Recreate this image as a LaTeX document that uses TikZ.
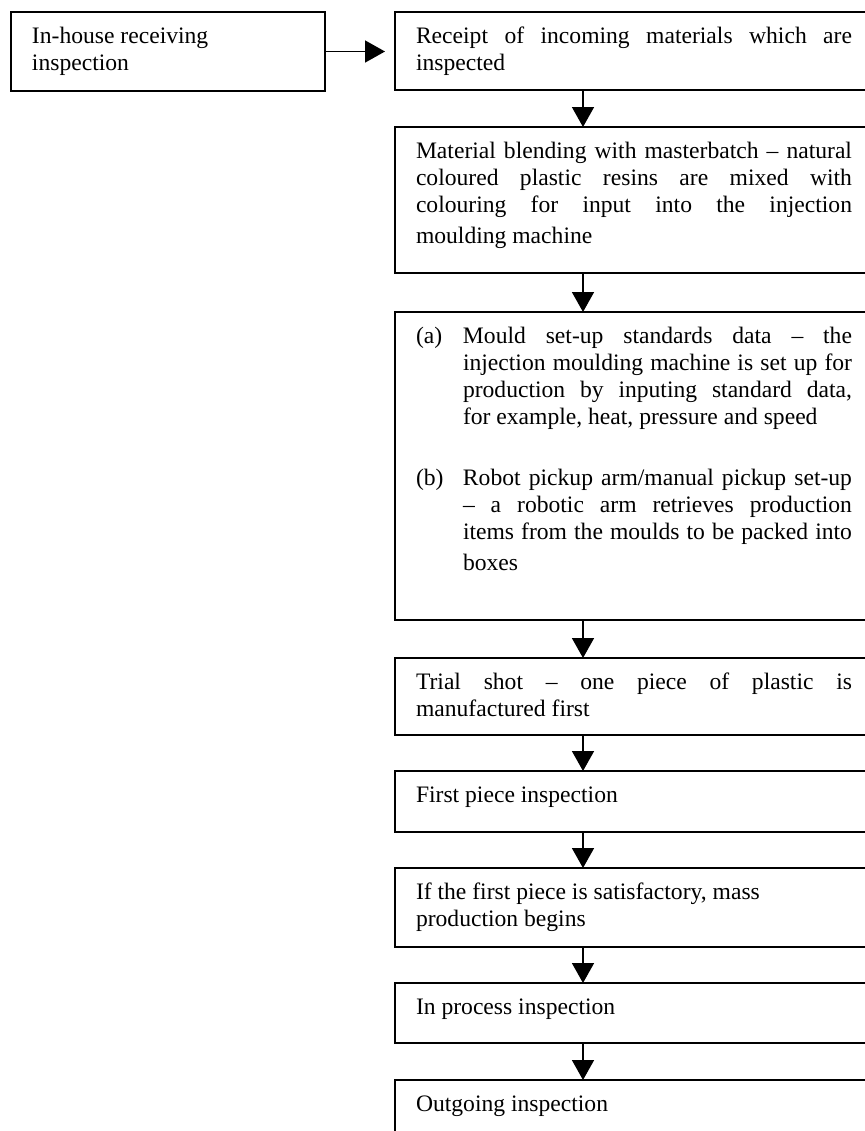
\documentclass[tikz,border=0pt]{standalone}
\usepackage{fontspec}
\setmainfont{Liberation Serif}
\usetikzlibrary{arrows.meta,positioning}
\hyphenpenalty=10000
\exhyphenpenalty=10000
\tolerance=9999
% top-aligned, justified text of a fixed height inside a box
\newcommand{\boxtext}[2]{\parbox[c][#1][t]{\linewidth}{%
    \rightskip=0pt\parfillskip=0pt plus 1fil
    \spaceskip=\fontdimen2\font plus 0.6\fontdimen2\font minus 0.35\fontdimen2\font
    \rule{0pt}{15.5pt}#2}}
\newcommand{\itemlabel}[1]{\hangindent=23.5pt\hangafter=1\makebox[23.5pt][l]{#1}}
% justified break with a little extra space before the last line
\newcommand{\lastgap}{{\parfillskip=0pt\par}\vspace{2pt}}

\begin{document}
\begin{tikzpicture}[x=0.5pt,y=-0.5pt,
        every node/.style={font=\fontsize{11.8pt}{13.5pt}\selectfont},
        stepbox/.style={draw, line width=0.8pt, outer sep=0pt, inner xsep=10.5pt,
            inner ysep=0pt, text width=218pt, anchor=north west},
        flow/.style={-{Triangle[length=10pt,width=11pt]}, line width=0.8pt},
        node distance=18pt]
    \useasboundingbox (0,0) rectangle (865,1131);
    \coordinate (spine) at (583,0);

    \node[stepbox, text width=136pt] (inbox) at (11,12)
        {\boxtext{39.5pt}{In-house receiving\\inspection}};
    \node[stepbox] (receipt) at (395,12)
        {\boxtext{39pt}{Receipt of incoming materials which are\linebreak inspected}};
    \node[stepbox, below=18.5pt of receipt.south west, anchor=north west] (blend)
        {\boxtext{73pt}{Material blending with masterbatch -- natural\linebreak
            coloured plastic resins are mixed with\linebreak
            colouring for input into the injection\lastgap moulding machine}};
    \node[stepbox, below=19.5pt of blend.south west, anchor=north west] (mould)
        {\boxtext{154pt}{\itemlabel{(a)}Mould set-up standards data -- the\linebreak
            injection moulding machine is set up for\linebreak
            production by inputing standard data,\linebreak
            for example, heat, pressure and speed\par\vspace{17pt}
            \itemlabel{(b)}Robot pickup arm/manual pickup set-up\linebreak
            -- a robotic arm retrieves production\linebreak
            items from the moulds to be packed into\lastgap\hspace*{23.5pt}boxes}};
    \node[stepbox, below=19pt of mould.south west, anchor=north west] (trial)
        {\boxtext{38.5pt}{Trial shot -- one piece of plastic is\linebreak manufactured first}};
    \node[stepbox, below=of trial.south west, anchor=north west] (first)
        {\boxtext{30.5pt}{First piece inspection}};
    \node[stepbox, below=of first.south west, anchor=north west] (mass)
        {\boxtext{39.5pt}{If the first piece is satisfactory, mass\\production begins}};
    \node[stepbox, below=of mass.south west, anchor=north west] (inproc)
        {\boxtext{30pt}{In process inspection}};
    \node[stepbox, below=18.5pt of inproc.south west, anchor=north west] (outgo)
        {\boxtext{30pt}{Outgoing inspection}};

    % connectors
    \draw[flow, shorten >=5pt] (inbox.east) -- (inbox.east -| receipt.west);
    \foreach \a/\b in {receipt/blend, blend/mould, mould/trial, trial/first,
            first/mass, mass/inproc, inproc/outgo}
        \draw[flow] (\a.south -| spine) -- (\b.north -| spine);
\end{tikzpicture}
\end{document}
